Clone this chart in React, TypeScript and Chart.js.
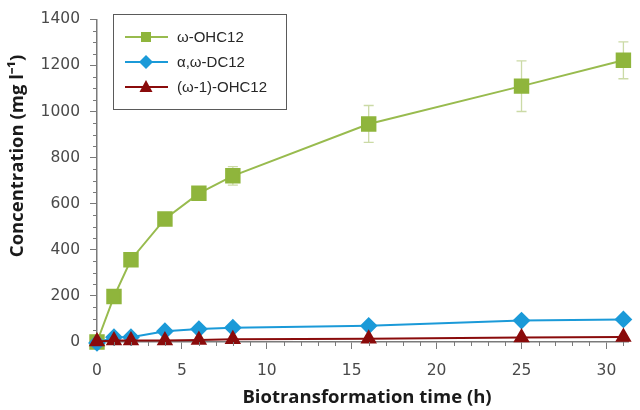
import React, { useEffect, useRef } from 'react';
import { Chart, registerables } from 'chart.js';

Chart.register(...registerables);

// ---- data ----
const timeH = [0, 1, 2, 4, 6, 8, 16, 25, 31];
const omegaOHC12 = [0, 197, 357, 534, 645, 721, 946, 1110, 1222];
const omegaOHC12Err = [5, 10, 15, 20, 25, 40, 80, 110, 80];
const alphaOmegaDC12 = [-4, 21, 21, 47, 56, 62, 70, 93, 98];
const omega1OHC12 = [2, 7, 7, 7, 9, 12, 14, 20, 22];
const seriesNames = ['ω-OHC12', 'α,ω-DC12', '(ω-1)-OHC12'];
const xTicksMajor = [0, 5, 10, 15, 20, 25, 30];
const yTicksMajor = [0, 200, 400, 600, 800, 1000, 1200, 1400];
const xTitle = 'Biotransformation time (h)';
const yTitle = 'Concentration (mg l⁻¹)';

const GREEN = '#8fb53c';
const GREEN_LINE = '#98bb4e';
const BLUE = '#1b9ad8';
const RED = '#8a0b0b';
const AXIS = '#7a7a7a';
const TITLE_FONT = 'bold 18.5px "Open Sans", sans-serif';

const errorBarPlugin = {
  id: 'errorBars',
  beforeDatasetsDraw(chart: any) {
    const { ctx, scales } = chart;
    const x = scales.x, y = scales.y;
    ctx.save();
    ctx.strokeStyle = '#cbdaa6';
    ctx.lineWidth = 1.3;
    timeH.forEach((t, i) => {
      const e = omegaOHC12Err[i];
      if (!e) return;
      const px = x.getPixelForValue(t);
      const top = y.getPixelForValue(omegaOHC12[i] + e);
      const bot = y.getPixelForValue(omegaOHC12[i] - e);
      ctx.beginPath();
      ctx.moveTo(px, top); ctx.lineTo(px, bot);
      ctx.moveTo(px - 5, top); ctx.lineTo(px + 5, top);
      ctx.moveTo(px - 5, bot); ctx.lineTo(px + 5, bot);
      ctx.stroke();
    });
    ctx.restore();
  },
};

const minorTickPlugin = {
  id: 'minorTicks',
  afterDraw(chart: any) {
    const { ctx, scales, chartArea } = chart;
    const x = scales.x, y = scales.y;
    ctx.save();
    ctx.strokeStyle = AXIS;
    ctx.lineWidth = 1;
    for (let v = 0; v <= 31; v++) {
      if (v % 5 === 0) continue;
      const px = Math.round(x.getPixelForValue(v)) + 0.5;
      ctx.beginPath();
      ctx.moveTo(px, chartArea.bottom);
      ctx.lineTo(px, chartArea.bottom + 4);
      ctx.stroke();
    }
    for (let v = 0; v <= 1400; v += 50) {
      if (v % 200 === 0) continue;
      const py = Math.round(y.getPixelForValue(v)) + 0.5;
      ctx.beginPath();
      ctx.moveTo(chartArea.left, py);
      ctx.lineTo(chartArea.left - 4, py);
      ctx.stroke();
    }
    // axis titles
    ctx.fillStyle = '#1a1a1a';
    ctx.font = TITLE_FONT;
    ctx.textAlign = 'center';
    ctx.textBaseline = 'alphabetic';
    ctx.fillText(xTitle, 367, 403);
    ctx.translate(23, 156);
    ctx.rotate(-Math.PI / 2);
    ctx.fillText(yTitle, 0, 0);
    ctx.restore();
  },
};

const legendPlugin = {
  id: 'customLegend',
  afterDraw(chart: any) {
    const { ctx } = chart;
    ctx.save();
    const bx = 113.5, by = 14.5, bw = 173, bh = 95;
    ctx.fillStyle = '#ffffff';
    ctx.fillRect(bx, by, bw, bh);
    ctx.strokeStyle = '#5a5a5a';
    ctx.lineWidth = 1;
    ctx.strokeRect(bx, by, bw, bh);
    const colors = [GREEN, BLUE, RED];
    const lineColors = [GREEN_LINE, BLUE, RED];
    const rows = [37, 62, 87];
    ctx.font = '15px "Liberation Sans", Arial, sans-serif';
    ctx.textBaseline = 'middle';
    rows.forEach((ry, i) => {
      ctx.strokeStyle = lineColors[i];
      ctx.lineWidth = 2;
      ctx.beginPath();
      ctx.moveTo(125, ry);
      ctx.lineTo(168, ry);
      ctx.stroke();
      ctx.fillStyle = colors[i];
      ctx.beginPath();
      if (i === 0) {
        ctx.rect(141, ry - 5, 10, 10);
      } else if (i === 1) {
        ctx.moveTo(146, ry - 7);
        ctx.lineTo(153, ry);
        ctx.lineTo(146, ry + 7);
        ctx.lineTo(139, ry);
        ctx.closePath();
      } else {
        ctx.moveTo(146, ry - 7);
        ctx.lineTo(152.5, ry + 5);
        ctx.lineTo(139.5, ry + 5);
        ctx.closePath();
      }
      ctx.fill();
      ctx.fillStyle = '#262626';
      ctx.fillText(seriesNames[i], 177, ry + 1);
    });
    ctx.restore();
  },
};

function toXY(ys: number[]) {
  return timeH.map((t, i) => ({ x: t, y: ys[i] }));
}

export default function App() {
  const ref = useRef<HTMLCanvasElement | null>(null);
  useEffect(() => {
    if (!ref.current) return;
    const tickFont = { family: '"DejaVu Sans", sans-serif', size: 15.5 };
    const chart = new Chart(ref.current, {
      type: 'line',
      data: {
        datasets: [
          {
            label: seriesNames[0],
            data: toXY(omegaOHC12),
            borderColor: GREEN_LINE,
            backgroundColor: GREEN,
            pointBackgroundColor: GREEN,
            pointBorderColor: GREEN,
            pointStyle: 'rect',
            pointRadius: 9.5,
            borderWidth: 2,
            clip: false,
            order: 3,
          },
          {
            label: seriesNames[1],
            data: toXY(alphaOmegaDC12),
            borderColor: BLUE,
            backgroundColor: BLUE,
            pointBackgroundColor: BLUE,
            pointBorderColor: BLUE,
            pointStyle: 'rectRot',
            pointRadius: 7.5,
            borderWidth: 2,
            clip: false,
            order: 2,
          },
          {
            label: seriesNames[2],
            data: toXY(omega1OHC12),
            borderColor: RED,
            backgroundColor: RED,
            pointBackgroundColor: RED,
            pointBorderColor: RED,
            pointStyle: 'triangle',
            pointRadius: 7.5,
            borderWidth: 2,
            clip: false,
            order: 1,
          },
        ],
      },
      options: {
        responsive: false,
        animation: false,
        devicePixelRatio: 1,
        layout: { padding: { top: 10, right: 8, left: 0, bottom: 0 } },
        plugins: {
          legend: { display: false },
          tooltip: { enabled: false },
        },
        scales: {
          x: {
            type: 'linear',
            min: 0,
            max: 31.3,
            afterFit(scale: any) { scale.height = 68; },
            afterBuildTicks(scale: any) { scale.ticks = xTicksMajor.map((v) => ({ value: v })); },
            ticks: {
              font: tickFont,
              color: '#4a4a4a',
              padding: 13,
              maxRotation: 0,
              callback: (v: any) => String(v),
            },
            grid: {
              display: true,
              drawOnChartArea: false,
              drawTicks: true,
              tickLength: 7,
              tickColor: AXIS,
              tickWidth: 1,
            },
            border: { display: true, color: AXIS, width: 1.5 },
            title: { display: false },
          },
          y: {
            type: 'linear',
            min: 0,
            max: 1400,
            afterFit(scale: any) { scale.width = 97; },
            afterBuildTicks(scale: any) { scale.ticks = yTicksMajor.map((v) => ({ value: v })); },
            ticks: {
              font: tickFont,
              color: '#4a4a4a',
              padding: 10,
              callback: (v: any) => String(v),
            },
            grid: {
              display: true,
              drawOnChartArea: false,
              drawTicks: true,
              tickLength: 7,
              tickColor: AXIS,
              tickWidth: 1,
            },
            border: { display: true, color: AXIS, width: 1.5 },
            title: { display: false },
          },
        },
      },
      plugins: [errorBarPlugin, minorTickPlugin, legendPlugin],
    } as any);
    return () => chart.destroy();
  }, []);
  return (
    <div style={{ position: 'absolute', left: 0, top: 0, width: 640, height: 410, background: '#fff' }}>
      <canvas ref={ref} width={640} height={410} style={{ display: 'block' }} />
    </div>
  );
}
